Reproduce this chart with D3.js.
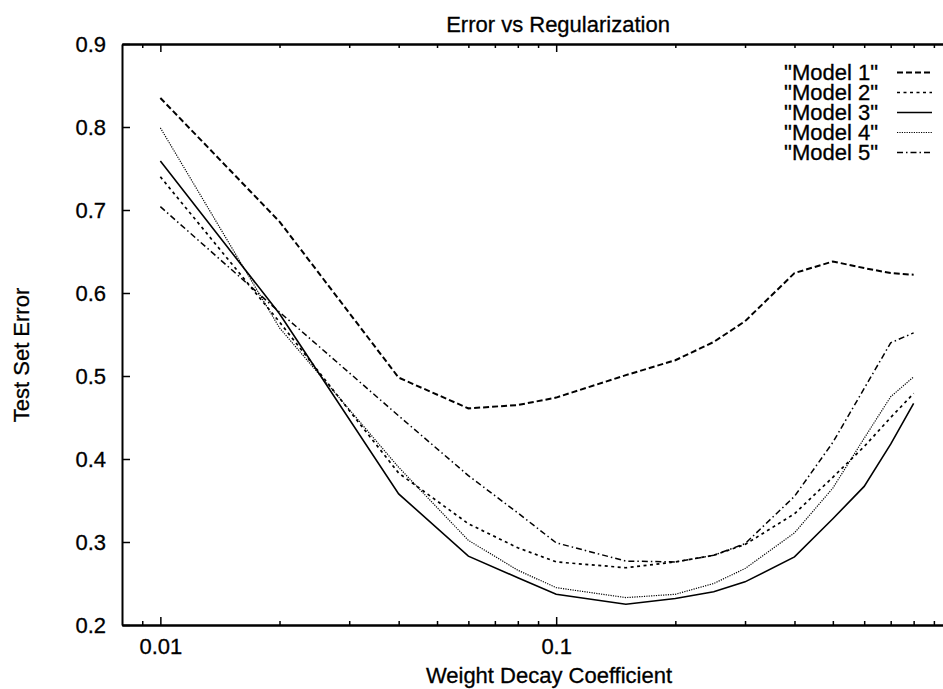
<!DOCTYPE html>
<html>
<head>
<meta charset="utf-8">
<script src="https://cdn.jsdelivr.net/npm/d3@7/dist/d3.min.js"></script>
<style>
  body { margin: 0; background: #fff; }
  svg text { font-family: "Liberation Sans", Arial, Helvetica, sans-serif; font-size: 22px; fill: #000; stroke: #000; stroke-width: 0.3px; }
</style>
</head>
<body>
<svg id="chart" width="943" height="689"></svg>
<script>
/* Error vs Regularization — five models, log x axis. */

const decay  = [0.01, 0.02, 0.04, 0.06, 0.08, 0.1, 0.15, 0.2, 0.25, 0.3, 0.4, 0.5, 0.6, 0.7, 0.8];
const model1 = [0.835, 0.686, 0.498, 0.461, 0.465, 0.474, 0.501, 0.519, 0.541, 0.566, 0.624, 0.638, 0.630, 0.624, 0.622];
const model2 = [0.740, 0.565, 0.383, 0.322, 0.293, 0.276, 0.269, 0.276, 0.284, 0.297, 0.334, 0.378, 0.415, 0.450, 0.479];
const model3 = [0.759, 0.575, 0.358, 0.283, 0.257, 0.237, 0.225, 0.232, 0.240, 0.252, 0.282, 0.328, 0.367, 0.418, 0.467];
const model4 = [0.799, 0.558, 0.390, 0.302, 0.266, 0.245, 0.233, 0.237, 0.250, 0.268, 0.311, 0.365, 0.425, 0.475, 0.499];
const model5 = [0.704, 0.577, 0.452, 0.380, 0.335, 0.299, 0.277, 0.276, 0.284, 0.298, 0.355, 0.420, 0.485, 0.540, 0.552];
const seriesNames = ['"Model 1"', '"Model 2"', '"Model 3"', '"Model 4"', '"Model 5"'];

const yTicks = [0.2, 0.3, 0.4, 0.5, 0.6, 0.7, 0.8, 0.9];
const xMajor = [0.01, 0.1];
const xMinor = [0.009, 0.02, 0.03, 0.04, 0.05, 0.06, 0.07, 0.08, 0.09, 0.2, 0.3, 0.4, 0.5, 0.6, 0.7, 0.8, 0.9];

// line look per series (gnuplot-ish dash patterns)
const STYLE = [
  { dash: "6,3",       w: 2.0 },
  { dash: "3,3.5",     w: 1.7 },
  { dash: null,        w: 1.6 },
  { dash: "1.2,1.2",   w: 1.2 },
  { dash: "6,3,1.5,3", w: 1.5 }
];

const svg = d3.select("#chart");
const M = { left: 122, top: 44, right: 952, bottom: 625 };

const x = d3.scaleLog().domain([0.008, 1]).range([M.left, M.right]);
const y = d3.scaleLinear().domain([0.2, 0.9]).range([M.bottom, M.top]);

const fmt = d3.format(".1f");
const fmtX = (d) => (d === 0.01 ? "0.01" : "0.1");

/* ---------- Axes ---------- */

const ax = svg.append("g");

ax.append("g").attr("transform", `translate(${M.left},0)`)
  .call(d3.axisLeft(y).tickValues(yTicks).tickFormat(fmt).tickSizeInner(-8).tickSizeOuter(0).tickPadding(16));
ax.append("g").attr("transform", `translate(${M.right},0)`)
  .call(d3.axisRight(y).tickValues(yTicks).tickFormat("").tickSizeInner(-8).tickSizeOuter(0));

ax.append("g").attr("transform", `translate(0,${M.bottom})`)
  .call(d3.axisBottom(x).tickValues(xMajor).tickFormat(fmtX).tickSizeInner(-8).tickSizeOuter(0).tickPadding(13));
ax.append("g").attr("transform", `translate(0,${M.bottom})`)
  .call(d3.axisBottom(x).tickValues(xMinor).tickFormat("").tickSizeInner(-4).tickSizeOuter(0));
ax.append("g").attr("transform", `translate(0,${M.top})`)
  .call(d3.axisTop(x).tickValues(xMajor).tickFormat("").tickSizeInner(-8).tickSizeOuter(0));
ax.append("g").attr("transform", `translate(0,${M.top})`)
  .call(d3.axisTop(x).tickValues(xMinor).tickFormat("").tickSizeInner(-4).tickSizeOuter(0));

ax.selectAll(".domain").attr("stroke", "#000").attr("stroke-width", 2);
ax.selectAll(".tick line").attr("stroke", "#000").attr("stroke-width", 1.5);
ax.selectAll(".tick text").attr("font-size", 22).attr("font-family", null);

/* ---------- Titles ---------- */

svg.append("text").attr("x", 558).attr("y", 32).attr("text-anchor", "middle")
  .text("Error vs Regularization");
svg.append("text").attr("x", 549).attr("y", 683).attr("text-anchor", "middle")
  .text("Weight Decay Coefficient");
svg.append("text").attr("transform", "translate(29,355) rotate(-90)").attr("text-anchor", "middle")
  .text("Test Set Error");

/* ---------- Lines ---------- */

const models = [model1, model2, model3, model4, model5];
const line = d3.line().x((d) => x(d[0])).y((d) => y(d[1]));

models.forEach((vals, i) => {
  svg.append("path")
    .datum(decay.map((dv, k) => [dv, vals[k]]))
    .attr("fill", "none")
    .attr("stroke", "#000")
    .attr("stroke-width", STYLE[i].w)
    .attr("stroke-dasharray", STYLE[i].dash)
    .attr("d", line);
});

/* ---------- Legend ---------- */

const leg = svg.append("g");
seriesNames.forEach((name, i) => {
  const base = 80 + i * 20;
  leg.append("text").attr("x", 878).attr("y", base).attr("text-anchor", "end").text(name);
  leg.append("line")
    .attr("x1", 897).attr("x2", 932).attr("y1", base - 7.5).attr("y2", base - 7.5)
    .attr("stroke", "#000")
    .attr("stroke-width", STYLE[i].w)
    .attr("stroke-dasharray", STYLE[i].dash);
});
</script>
</body>
</html>
